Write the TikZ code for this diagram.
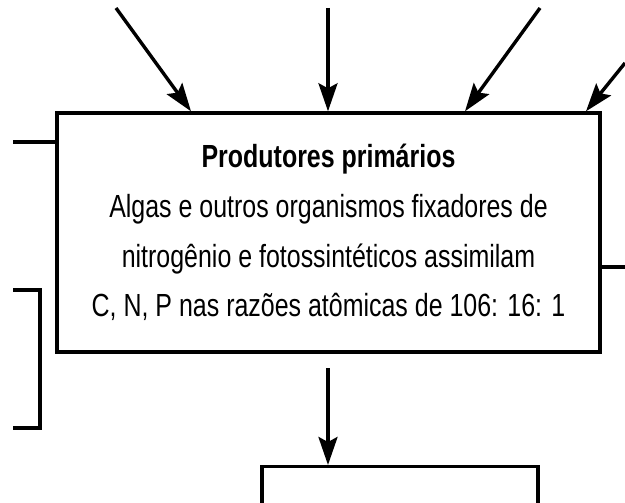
\documentclass[tikz,border=0pt]{standalone}
\usepackage{fontspec}
\setmainfont{Liberation Sans}[FakeStretch=0.78]
\usetikzlibrary{arrows.meta,positioning,calc}

\tikzset{
  box/.style={draw=black, line width=3.4pt, rectangle, align=center,
    font=\fontsize{32pt}{49.7pt}\selectfont},
  flow/.style={draw=black, line width=3.4pt, -{Stealth[length=28pt,width=19pt,inset=5pt]}},
  stub/.style={draw=black, line width=3.4pt},
}

\begin{document}
\begin{tikzpicture}[x=1pt,y=-1pt]
  \useasboundingbox (0,0) rectangle (625,503);

  \node (prod) [box, minimum width=543pt, minimum height=239pt] at (328.5,232.5)
    {\textbf{Produtores primários}\\
     Algas e outros organismos fixadores de\\
     nitrogênio e fotossintéticos assimilam\\
     C, N, P nas razões atômicas de 106: 16: 1};
  \node (org) [box, minimum width=276pt, minimum height=110pt, anchor=north] at (400,465) {};

  % entradas por cima
  \coordinate (in1) at (116,8);
  \coordinate (in2) at (328,8);
  \coordinate (in3) at (540,8);
  \coordinate (in4) at (625,63);
  \draw [flow] (in1) -- (191,0 |- prod.north);
  \draw [flow] (in2) -- (in2 |- prod.north);
  \draw [flow] (in3) -- (465,0 |- prod.north);
  \draw [flow] (in4) -- (586,0 |- prod.north);

  % saida para baixo
  \coordinate (out1) at (328,368);
  \draw [flow] (out1) -- (out1 |- org.north);

  % ligacoes laterais
  \coordinate (lstub) at (13,142);
  \coordinate (rstub) at (625,267);
  \draw [stub] (lstub) -- (lstub -| prod.west);
  \draw [stub] (rstub) -- (rstub -| prod.east);

  \coordinate (lb1) at (13,290);
  \coordinate (lb2) at (13,428);
  \draw [stub, line join=miter] (lb1) -| (40,428) -- (lb2);
\end{tikzpicture}
\end{document}
